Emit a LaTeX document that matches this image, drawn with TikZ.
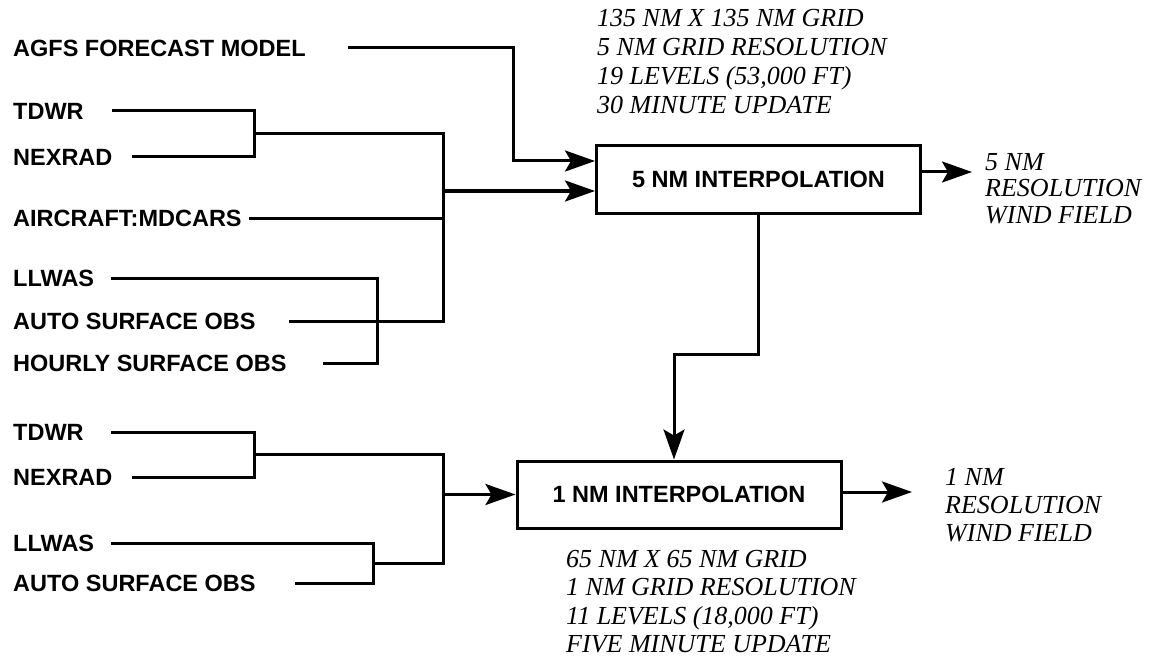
\documentclass[tikz,border=0pt]{standalone}
\usepackage{fontspec}
\setmainfont{Liberation Serif}
\setsansfont{Liberation Sans}
\usetikzlibrary{arrows.meta}

\newcommand\srcfont{\sffamily\bfseries\fontsize{23.5}{26}\selectfont}
\newcommand\notefont{\itshape\fontsize{26}{29}\selectfont}

\tikzset{
  src/.style={anchor=west, inner sep=0pt, font=\srcfont},
  interp/.style={draw, line width=3pt, minimum width=324pt, minimum height=67pt, inner sep=0pt, font=\srcfont},
  note/.style={anchor=west, inner sep=0pt, align=left, font=\notefont},
  wire/.style={line width=3pt},
  feed/.style={wire, -{Stealth[length=30pt,width=21pt,inset=6pt]}}
}

\begin{document}
\begin{tikzpicture}[x=1pt,y=-1pt]
  \useasboundingbox (0,0) rectangle (1149,658);

  % processing boxes
  \node[interp] (five) at (758.5,179.5) {5 NM INTERPOLATION};
  \node[interp] (one) at (679,494.5) {1 NM INTERPOLATION};

  % notes
  \node[note] (grid5) at (597,61.5) {135 NM X 135 NM GRID\\5 NM GRID RESOLUTION\\19 LEVELS (53,000 FT)\\30 MINUTE UPDATE};
  \node[note, font=\itshape\fontsize{26}{28.3}\selectfont] (grid1) at (566,601.5) {65 NM X 65 NM GRID\\1 NM GRID RESOLUTION\\11 LEVELS (18,000 FT)\\FIVE MINUTE UPDATE};
  \node[note, font=\itshape\fontsize{26}{26.5}\selectfont] (out5) at (985,188.5) {5 NM\\RESOLUTION\\WIND FIELD};
  \node[note, font=\itshape\fontsize{26}{28}\selectfont] (out1) at (945,505) {1 NM\\RESOLUTION\\WIND FIELD};

  % sources, upper group
  \node[src] (agfs) at (13,48) {AGFS FORECAST MODEL};
  \node[src] (tdwr) at (13,111) {TDWR};
  \node[src] (nexrad) at (13,157) {NEXRAD};
  \node[src] (mdcars) at (13,218) {AIRCRAFT:MDCARS};
  \node[src] (llwas) at (13,278) {LLWAS};
  \node[src] (auto) at (13,321) {AUTO SURFACE OBS};
  \node[src] (hourly) at (13,363) {HOURLY SURFACE OBS};

  % sources, lower group
  \node[src] (tdwrB) at (13,432) {TDWR};
  \node[src] (nexradB) at (13,477) {NEXRAD};
  \node[src] (llwasB) at (13,543) {LLWAS};
  \node[src] (autoB) at (13,583) {AUTO SURFACE OBS};

  % line starts and bends
  \coordinate (agfsS) at (348,48);
  \coordinate (agfsK) at (513,48);
  \coordinate (tdwrS) at (112,111);
  \coordinate (nexradS) at (132,157);
  \coordinate (mdcarsS) at (249,218);
  \coordinate (llwasS) at (111,278);
  \coordinate (autoS) at (289,321);
  \coordinate (hourlyS) at (323,363);
  \coordinate (llwasK) at (377,278);
  \coordinate (jA) at (254,134);
  \coordinate (jB) at (443,134);
  \coordinate (in5a) at ([yshift=18.5pt]five.west);
  \coordinate (in5b) at ([yshift=-11.5pt]five.west);

  \coordinate (tdwrBS) at (111,432);
  \coordinate (nexradBS) at (132,477);
  \coordinate (llwasBS) at (111,543);
  \coordinate (autoBS) at (295,583);
  \coordinate (jD) at (254,454.5);
  \coordinate (jE) at (443,454.5);
  \coordinate (jF) at (373,563);
  \coordinate (jG) at (443,563);

  \coordinate (tip5) at (972,172);
  \coordinate (tip1) at (912,492);

  % upper wiring
  \draw[feed] (agfsS) -- (agfsK) |- (in5a);
  \draw[wire] (tdwrS) -| (jA) |- (nexradS);
  \draw[wire] (jA) -- (jB) |- (autoS);
  \draw[wire] (mdcarsS) -- (mdcarsS -| jB);
  \draw[wire] (llwasS) -- (llwasK) |- (hourlyS);
  \draw[feed] (jB |- in5b) -- (in5b);

  % lower wiring
  \draw[wire] (tdwrBS) -| (jD) |- (nexradBS);
  \draw[wire] (llwasBS) -| (jF) |- (autoBS);
  \draw[wire] (jD) -- (jE) -- (jG) -- (jF);
  \draw[feed] (jE |- one.west) -- (one.west);

  % between and out of the boxes
  \draw[feed] (five.south) -- ++(0,140) -| ([xshift=-5pt]one.north);
  \draw[feed] (five.east |- tip5) -- (tip5);
  \draw[feed] (one.east |- tip1) -- (tip1);
\end{tikzpicture}
\end{document}
